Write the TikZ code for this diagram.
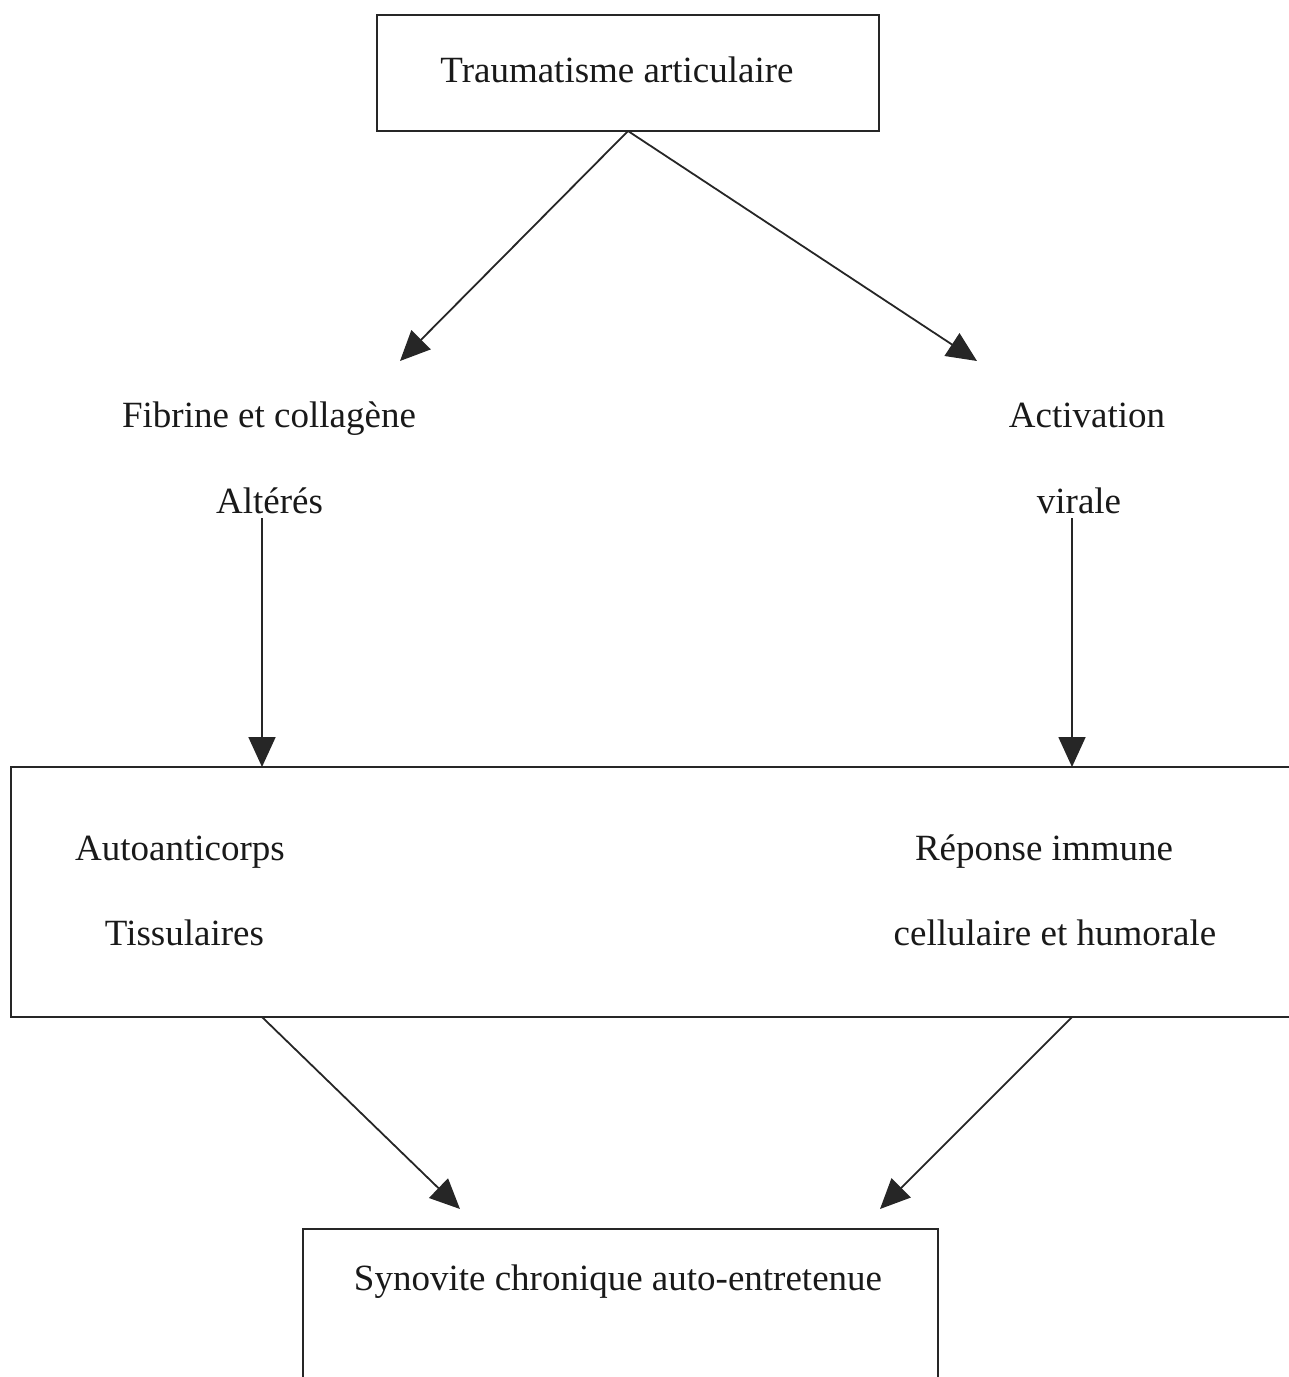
\documentclass[tikz,border=0pt]{standalone}
\usepackage{fontspec}
\setmainfont{Liberation Serif}
\usetikzlibrary{arrows.meta}
\begin{document}
\begin{tikzpicture}[x=1pt,y=-1pt,
  box/.style={draw=black!85, line width=1.8pt, inner sep=0pt},
  lbl/.style={anchor=base, inner sep=0pt, text=black!90, font=\fontsize{37}{44}\selectfont},
  arr/.style={draw=black!85, line width=1.8pt, -{Triangle[length=30pt,width=27pt]}}]
\useasboundingbox (0,0) rectangle (1289,1377);
\clip (0,0) rectangle (1289,1377);
% boxes
\node[box, minimum width=502pt, minimum height=116pt] (top) at (628,73) {};
\node[box, minimum width=1300pt, minimum height=250pt] (mid) at (661,892) {};
\node[box, minimum width=635pt, minimum height=200pt] (bot) at (620.5,1329) {};
% texts
\node[lbl] (t1) at (617,82) {Traumatisme articulaire};
\node[lbl] (f1) at (269,427) {Fibrine et collagène};
\node[lbl] (f2) at (269.5,513) {Altérés};
\node[lbl] (a1) at (1087,427) {Activation};
\node[lbl] (a2) at (1079,513) {virale};
\node[lbl] (m1) at (180,860) {Autoanticorps};
\node[lbl] (m2) at (184.5,945) {Tissulaires};
\node[lbl] (m3) at (1044,860) {Réponse immune};
\node[lbl] (m4) at (1055,945) {cellulaire et humorale};
\node[lbl] (s1) at (618,1290) {Synovite chronique auto-entretenue};
% connector points
\coordinate (apex) at (628,131);
\coordinate (fl) at (400,361);
\coordinate (fr) at (977,361);
\coordinate (vl0) at (262,518);
\coordinate (vl1) at (262,767);
\coordinate (vr0) at (1072,518);
\coordinate (vr1) at (1072,767);
\coordinate (dl0) at (262,1017);
\coordinate (dl1) at (460,1209);
\coordinate (dr0) at (1072,1017);
\coordinate (dr1) at (880,1209);
% arrows
\draw[arr] (apex) -- (fl);
\draw[arr] (apex) -- (fr);
\draw[arr] (vl0) -- (vl1);
\draw[arr] (vr0) -- (vr1);
\draw[arr] (dl0) -- (dl1);
\draw[arr] (dr0) -- (dr1);
\end{tikzpicture}
\end{document}
